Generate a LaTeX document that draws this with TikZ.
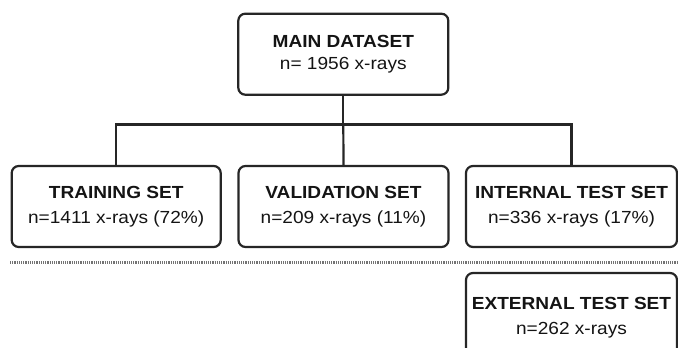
\documentclass[tikz,border=0pt]{standalone}
\usepackage{fontspec}
\setmainfont[FakeStretch=1.09]{Liberation Sans}
\definecolor{boxline}{HTML}{262626}
\definecolor{boxtext}{HTML}{141414}
\tikzset{
	setbox/.style={draw=boxline,line width=2.2pt,rounded corners=7pt,fill=white,
		minimum width=210pt,minimum height=81pt,inner sep=0pt,align=center,
		text=boxtext,font=\fontsize{17.5}{25}\selectfont},
	link/.style={draw=boxline,line width=2.2pt},
	splitline/.style={draw=black!55,line width=2.5pt,dash pattern=on 1.2pt off 1pt}
}
\begin{document}
\begin{tikzpicture}[x=1pt,y=-1pt]
\useasboundingbox (0,0) rectangle (678,348);
\clip (0,0) rectangle (678,348);
% data sets
	\node[setbox] (main) at (343.3,54.2) {\textbf{MAIN DATASET}\\[-2.7pt]n= 1956 x-rays};
	\node[setbox,minimum width=209pt] (train) at (116.2,206.5) {\textbf{TRAINING SET}\\n=1411 x-rays (72\%)};
	\node[setbox] (valid) at (343.5,206.5) {\textbf{VALIDATION SET}\\n=209 x-rays (11\%)};
	\node[setbox,minimum width=211pt] (intern) at (571.5,206.5) {\textbf{INTERNAL TEST SET}\\n=336 x-rays (17\%)};
	\node[setbox,minimum width=211pt,minimum height=90pt] (extern) at (571.5,318) {\textbf{EXTERNAL TEST SET}\\n=262 x-rays};

	%Links
	\coordinate (bus) at (343.3,124.5);
	\draw[link] (main.south) -- (bus);
	\draw[link] (train.north) |- (bus) -| (intern.north);
	\draw[link] (bus) -- (valid.north);

	% internal / external separation
	\coordinate (sepl) at (10,262.5);
	\coordinate (sepr) at (678,262.5);
	\draw[splitline] (sepl) -- (sepr);
\end{tikzpicture}
\end{document}
